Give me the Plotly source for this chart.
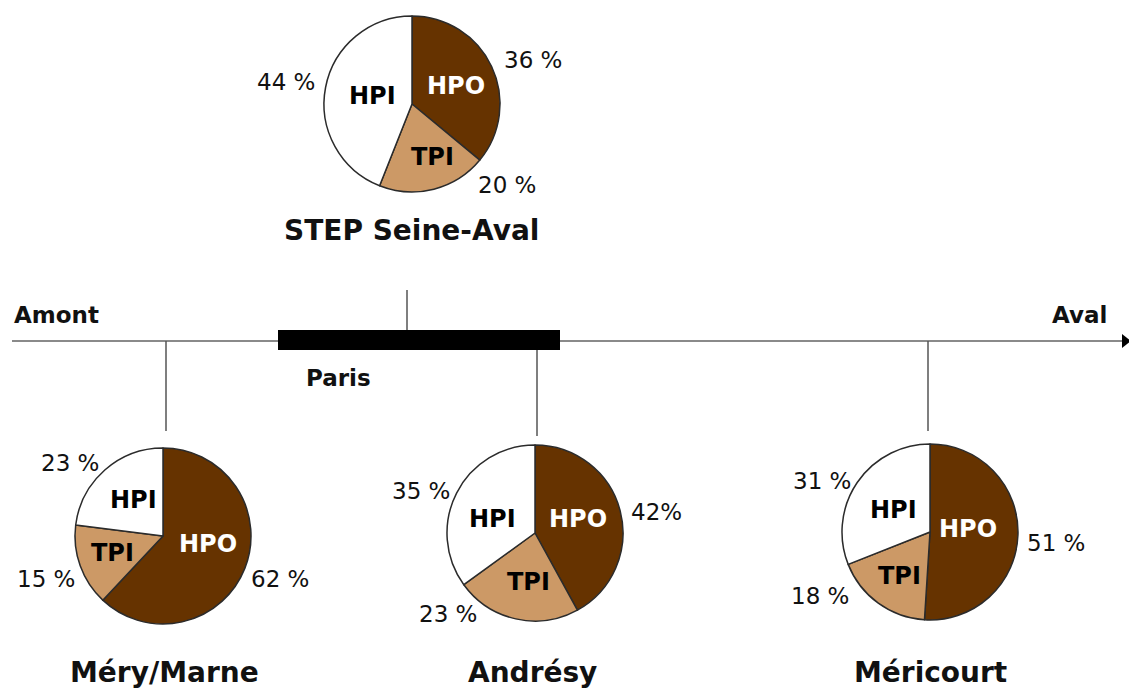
import plotly.graph_objects as go

# Fractions (%) of the organic matter pools at each site
sites = ["STEP Seine-Aval", "Méry/Marne", "Andrésy", "Méricourt"]
fractions = ["HPO", "TPI", "HPI"]
hpo = [36, 62, 42, 51]
tpi = [20, 15, 23, 18]
hpi = [44, 23, 35, 31]
hpo_sep = [" ", " ", "", " "]

colors = {"HPO": "#663300", "TPI": "#CC9966", "HPI": "#FFFFFF"}
label_colors = {"HPO": "white", "TPI": "black", "HPI": "black"}

W, H = 1129, 688
FONT = "DejaVu Sans"

# pie centres / radius in pixels
centers = [(412, 104), (163, 536), (535, 533), (930, 532)]
R = 88

# label offsets from the pie centre: name label and percentage label per fraction
name_off = [
    {"HPO": (44, -18), "TPI": (20, 53), "HPI": (-40, -8)},
    {"HPO": (45, 8), "TPI": (-51, 17), "HPI": (-30, -36)},
    {"HPO": (43, -14), "TPI": (-7, 49), "HPI": (-43, -14)},
    {"HPO": (38, -3), "TPI": (-31, 44), "HPI": (-37, -22)},
]
pct_off = [
    {"HPO": (121, -44), "TPI": (95, 81), "HPI": (-126, -22)},
    {"HPO": (117, 43), "TPI": (-117, 43), "HPI": (-93, -73)},
    {"HPO": (121, -21), "TPI": (-87, 81), "HPI": (-114, -42)},
    {"HPO": (126, 11), "TPI": (-110, 64), "HPI": (-108, -51)},
]
title_pos = [(411, 230), (164, 672), (532, 672), (930, 672)]

fig = go.Figure()

for i, site in enumerate(sites):
    cx, cy = centers[i]
    vals = [hpo[i], tpi[i], hpi[i]]
    fig.add_trace(go.Pie(
        labels=fractions, values=vals, sort=False, direction="clockwise",
        rotation=0, textinfo="none", hoverinfo="label+percent",
        marker=dict(colors=[colors[f] for f in fractions],
                    line=dict(color="#2b2b2b", width=1.5)),
        domain=dict(x=[(cx - R) / W, (cx + R) / W],
                    y=[1 - (cy + R) / H, 1 - (cy - R) / H]),
        showlegend=False,
    ))

annotations = []
for i, site in enumerate(sites):
    cx, cy = centers[i]
    vals = {"HPO": hpo[i], "TPI": tpi[i], "HPI": hpi[i]}
    for f in fractions:
        dx, dy = name_off[i][f]
        annotations.append(dict(x=cx + dx, y=cy + dy, text=f"<b>{f}</b>",
                                showarrow=False, xanchor="center", yanchor="middle",
                                font=dict(family=FONT, size=24, color=label_colors[f])))
        px, py = pct_off[i][f]
        sep = hpo_sep[i] if f == "HPO" else " "
        annotations.append(dict(x=cx + px, y=cy + py, text=f"{vals[f]}{sep}%",
                                showarrow=False, xanchor="center", yanchor="middle",
                                font=dict(family=FONT, size=23, color="#111")))
    tx, ty = title_pos[i]
    annotations.append(dict(x=tx, y=ty, text=f"<b>{site}</b>", showarrow=False,
                            xanchor="center", yanchor="middle",
                            font=dict(family=FONT, size=28, color="#111")))

annotations += [
    dict(x=12, y=315, text="<b>Amont</b>", showarrow=False, xanchor="left", yanchor="middle",
         font=dict(family=FONT, size=23, color="#111")),
    dict(x=1109, y=315, text="<b>Aval</b>", showarrow=False, xanchor="right", yanchor="middle",
         font=dict(family=FONT, size=23, color="#111")),
    dict(x=338, y=378, text="<b>Paris</b>", showarrow=False, xanchor="center", yanchor="middle",
         font=dict(family=FONT, size=23, color="#111")),
]

AXIS_Y = 341
shapes = [
    # river axis
    dict(type="line", x0=12, x1=1124, y0=AXIS_Y, y1=AXIS_Y,
         line=dict(color="#8a8a8a", width=2)),
    dict(type="path", path=f"M1122,{AXIS_Y-7} L1131,{AXIS_Y} L1122,{AXIS_Y+7} Z",
         fillcolor="black", line=dict(width=0)),
    # Paris reach
    dict(type="rect", x0=278, x1=560, y0=330, y1=350, fillcolor="black",
         line=dict(width=0)),
    # site connectors
    dict(type="line", x0=407, x1=407, y0=290, y1=330, line=dict(color="#555", width=1.5)),
    dict(type="line", x0=166, x1=166, y0=AXIS_Y, y1=431, line=dict(color="#555", width=1.5)),
    dict(type="line", x0=537, x1=537, y0=350, y1=436, line=dict(color="#555", width=1.5)),
    dict(type="line", x0=928, x1=928, y0=AXIS_Y, y1=431, line=dict(color="#555", width=1.5)),
]
for s in shapes:
    s.update(xref="x", yref="y", layer="below")

fig.update_layout(
    width=W, height=H, margin=dict(l=0, r=0, t=0, b=0),
    paper_bgcolor="white", plot_bgcolor="white",
    xaxis=dict(range=[0, W], visible=False, fixedrange=True),
    yaxis=dict(range=[H, 0], visible=False, fixedrange=True),
    shapes=shapes, annotations=annotations,
)

fig.write_html("out.html")
